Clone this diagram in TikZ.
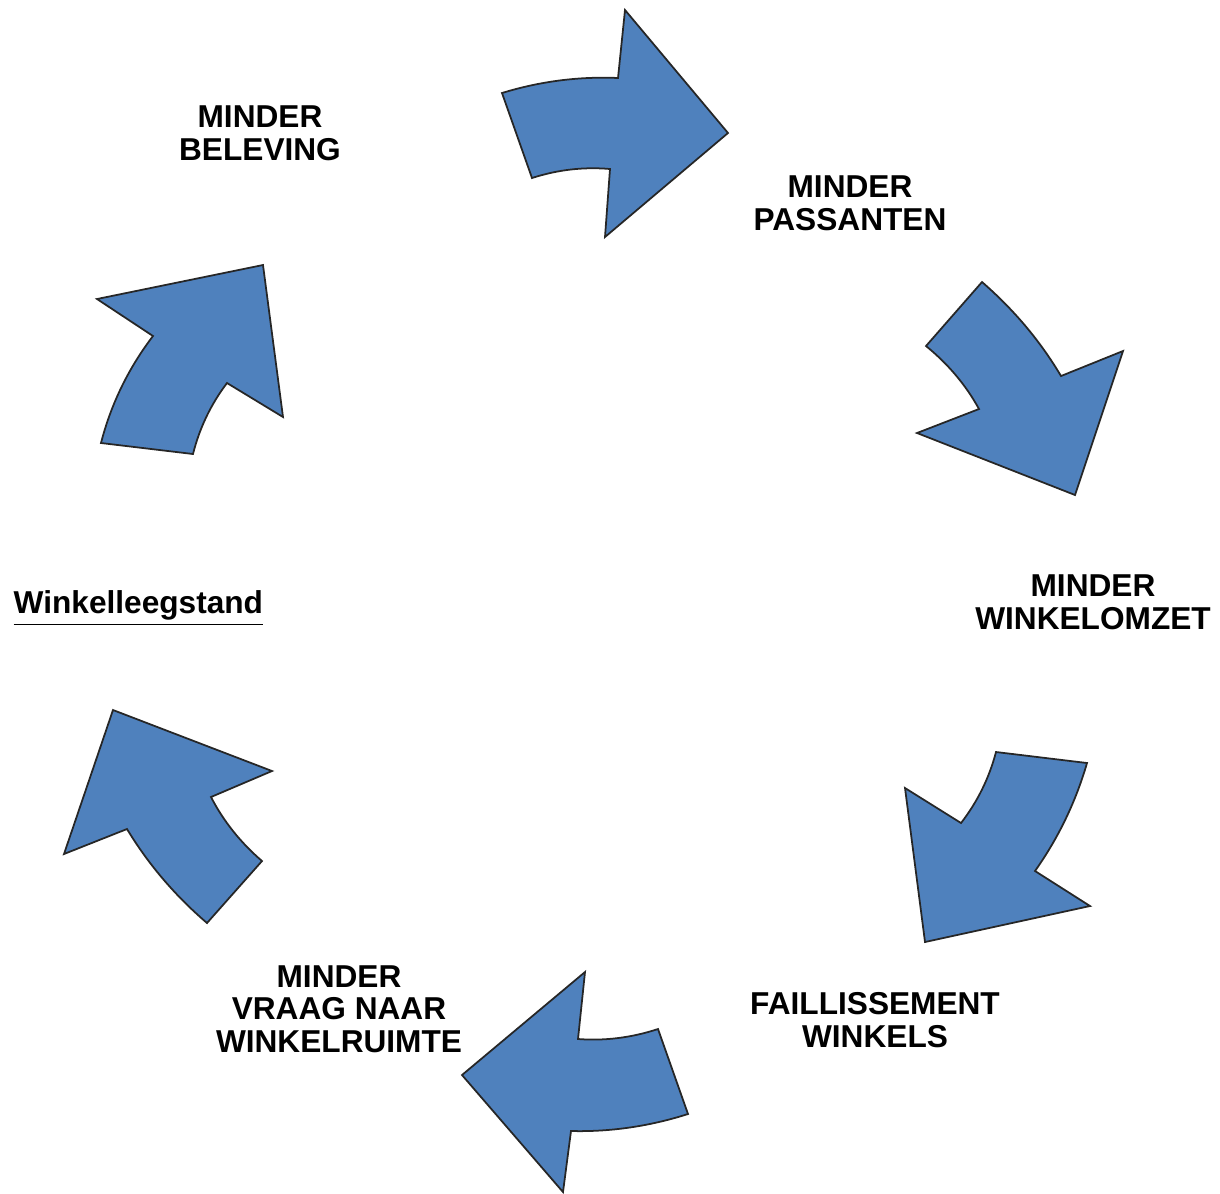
\documentclass[tikz,border=0pt]{standalone}
\usepackage{fontspec}
\setmainfont{Liberation Sans}
\definecolor{pijlblauw}{RGB}{79,129,189}

\begin{document}
\begin{tikzpicture}[x=0.1mm,y=-0.1mm]
  \tikzstyle{pijl}=[fill=pijlblauw,draw=black!85,line width=0.5pt,line join=miter]
  \tikzstyle{tekst}=[align=center,inner sep=0pt,font=\fontsize{9}{9.3}\selectfont\bfseries]

  \useasboundingbox (0,0) rectangle (1220,1193);

  % pijlen, met de klok mee vanaf boven
  \draw[pijl] (502,93) .. controls (540.1,81.3) and (578.8,76.3) .. (618,78) -- (625,10) -- (728,133)
    -- (605,237) -- (610,169) .. controls (583.7,166.7) and (557.7,169.7) .. (532,178) -- cycle;
  \draw[pijl] (982,282) .. controls (1013.9,309.7) and (1040.3,341.1) .. (1061,376) -- (1123,351)
    -- (1075,495) -- (917,433) -- (979,409) .. controls (965.9,385.1) and (948.2,364.1) .. (926,346) -- cycle;
  \draw[pijl] (996,752) -- (1087,763) .. controls (1075.7,801.9) and (1058.4,837.9) .. (1035,871)
    -- (1090,906) -- (925,942) -- (905,788) -- (961,823) .. controls (977.5,801.7) and (989.1,778.1) .. (996,752) -- cycle;
  \draw[pijl] (585,972) -- (578,1039) .. controls (604.9,1041) and (631.5,1037.7) .. (658,1029) -- (688,1114)
    .. controls (649.4,1126.3) and (610.4,1132) .. (571,1131) -- (563,1192) -- (462,1075) -- cycle;
  \draw[pijl] (113,710) -- (272,771) -- (211,797) .. controls (223.5,821.2) and (240.5,842.5) .. (262,861)
    -- (207,923) .. controls (174.7,895.3) and (148.1,863.9) .. (127,829) -- (64,854) -- cycle;
  \draw[pijl] (97,299) -- (263,265) -- (283,417) -- (227,383) .. controls (210.8,404.4) and (199.5,428.1) .. (193,454)
    -- (101,443) .. controls (111,404.1) and (128.3,368.4) .. (153,336) -- cycle;

  % teksten
  \node[tekst] (beleving)      at (260,133)  {MINDER\\BELEVING};
  \node[tekst] (passanten)     at (850,203)  {MINDER\\PASSANTEN};
  \node[tekst] (omzet)         at (1093,602) {MINDER\\WINKELOMZET};
  \node[tekst] (faillissement) at (875,1020) {FAILLISSEMENT\\WINKELS};
  \node[tekst] (vraag)         at (339,1009) {MINDER\\VRAAG NAAR\\WINKELRUIMTE};
  \node[tekst,anchor=base west] (leegstand) at (13,613) {\underline{Winkelleegstand}};
\end{tikzpicture}
\end{document}
